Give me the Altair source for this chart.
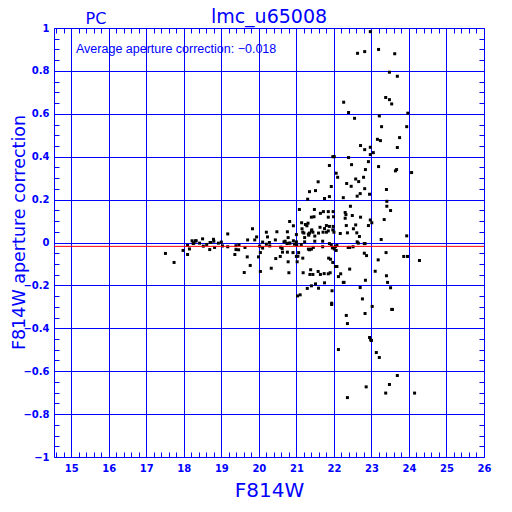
import altair as alt
import pandas as pd
import numpy as np

# ---- data ----
mag = [
    17.51, 17.74, 17.98, 18.10, 18.10, 18.15, 18.22, 18.25, 18.27, 18.31, 18.33, 18.42, 18.50, 18.52,
    18.61, 18.70, 18.72, 18.69, 18.79, 18.80, 18.82, 18.92, 19.00, 19.03, 19.17, 19.17, 19.36, 19.39,
    19.39, 19.47, 19.46, 19.61, 19.63, 19.69, 19.70, 19.77, 19.83, 19.89, 19.94, 19.99, 20.02, 20.04,
    20.04, 20.10, 20.10, 20.20, 20.20, 20.23, 20.28, 20.29, 20.33,
    # upper band near zero
    20.48, 20.82, 20.92, 20.76, 20.78, 21.00, 21.14, 21.24, 21.28, 21.31, 21.15, 21.17, 21.20, 21.22,
    21.40, 21.41, 21.44, 21.35, 21.32, 21.33, 21.49, 21.59, 21.71, 21.80, 21.85, 21.80, 21.88, 21.63,
    21.75, 21.98, 21.97, 22.00, 22.17, 22.33, 22.36, 22.52, 22.58, 22.61, 22.68, 22.92, 23.01, 23.26,
    23.94,
    # around zero
    20.44, 20.58, 20.62, 20.67, 20.70, 20.75, 20.80, 20.83, 20.92, 20.95, 21.00, 21.01, 21.13, 21.22,
    21.32, 21.35, 21.40, 21.45, 21.49, 21.70, 21.70, 21.88, 21.93, 21.96, 22.01, 22.04, 22.06, 22.08,
    22.38, 22.42, 22.51, 22.62, 22.65, 22.81, 22.83,
    # below
    20.45, 20.57, 20.63, 20.76, 20.78, 20.80, 20.91, 21.00, 21.02, 21.06, 21.04, 21.17, 21.18, 21.38,
    21.44, 21.36, 21.58, 21.64, 21.74, 21.85, 21.90, 21.86, 21.91, 21.97, 22.04, 22.08, 22.12, 22.18,
    22.25, 22.27, 22.42, 22.70, 22.84, 22.76, 22.81, 22.87, 23.18, 23.10, 23.39, 23.86, 23.96, 24.28,
    23.40, 23.43, 23.51, 23.02, 23.54, 23.56, 21.94, 21.94, 21.95, 21.03, 21.10, 21.29, 21.40, 21.51,
    21.59, 21.75, 22.33, 22.36, 22.83, 22.95, 22.98, 23.00, 23.13, 23.21, 22.12, 23.69, 23.48, 23.38,
    24.15, 22.86, 22.36,
    # high values
    22.97, 22.63, 22.82, 23.19, 23.62, 23.48, 23.69, 22.26, 22.39, 22.55, 23.38, 23.48, 23.54, 23.97,
    23.21, 23.27, 23.94, 23.75, 23.16, 23.24, 23.69, 22.71, 22.82, 22.97, 23.05, 22.97, 21.97, 22.01,
    22.39, 22.92, 21.88, 22.47, 22.84, 23.19, 23.64, 23.67, 24.07, 22.06, 22.10, 21.58, 22.58, 22.66,
    22.79, 22.34, 22.46, 21.93, 21.35, 21.51, 22.82, 23.40, 21.88, 22.25, 22.62, 22.70, 22.95, 21.30,
    21.75, 23.41, 21.08, 21.48, 22.44, 23.41, 23.51, 21.64, 21.72, 21.85, 21.98, 22.30, 22.32, 21.47,
    21.40, 21.85, 21.99, 22.49, 22.71, 22.30, 22.97, 23.34,
]
corr = [
    -0.051, -0.093, -0.037, -0.014, -0.056, -0.030, 0.008, -0.005, -0.002, 0.008, 0.008, -0.003, 0.017, -0.017,
    -0.009, 0.000, 0.000, -0.033, 0.015, 0.006, -0.023, -0.003, 0.002, -0.016, 0.040, -0.020, -0.056, -0.015,
    -0.033, -0.011, -0.034, -0.140, -0.023, -0.067, 0.012, -0.107, 0.064, 0.012, 0.026, -0.067, -0.017, -0.047,
    -0.135, 0.002, -0.026, -0.008, 0.048, 0.026, 0.000, -0.016, -0.120,
    0.050, 0.098, 0.078, 0.050, 0.023, 0.037, 0.092, 0.084, 0.078, 0.090, 0.064, 0.048, 0.044, 0.023,
    0.054, 0.059, 0.048, 0.044, 0.039, 0.034, 0.030, 0.044, 0.048, 0.048, 0.054, 0.079, 0.075, 0.071,
    0.065, 0.075, 0.059, 0.048, 0.042, 0.079, 0.045, 0.064, 0.082, 0.045, 0.028, 0.079, 0.092, 0.014,
    0.031,
    0.012, -0.022, -0.028, 0.003, 0.006, -0.005, -0.003, -0.003, 0.008, -0.008, 0.003, -0.011, -0.009, 0.003,
    -0.031, -0.034, -0.031, -0.023, 0.006, 0.006, -0.020, -0.005, -0.011, -0.025, -0.030, -0.019, -0.037, -0.014,
    -0.023, -0.023, -0.020, 0.003, -0.003, -0.005, -0.005,
    -0.075, -0.065, -0.045, -0.045, -0.090, -0.141, -0.047, -0.065, -0.090, -0.047, -0.064, -0.073, -0.141, -0.127,
    -0.149, -0.149, -0.135, -0.149, -0.145, -0.146, -0.141, -0.073, -0.078, -0.093, -0.112, -0.112, -0.159, -0.146,
    -0.186, -0.186, -0.124, -0.210, -0.176, -0.263, -0.050, -0.061, -0.081, -0.134, -0.047, -0.065, -0.065, -0.084,
    -0.155, -0.186, -0.211, -0.298, -0.312, -0.312, -0.283, -0.289, -0.225, -0.249, -0.244, -0.214, -0.202, -0.193,
    -0.213, -0.188, -0.340, -0.378, -0.331, -0.443, -0.454, -0.457, -0.513, -0.536, -0.499, -0.620, -0.662, -0.702,
    -0.702, -0.673, -0.723,
    0.983, 0.882, 0.890, 0.900, 0.880, 0.794, 0.775, 0.654, 0.606, 0.579, 0.676, 0.666, 0.646, 0.603,
    0.590, 0.540, 0.540, 0.489, 0.481, 0.475, 0.443, 0.452, 0.433, 0.444, 0.419, 0.410, 0.400, 0.400,
    0.396, 0.377, 0.359, 0.363, 0.340, 0.354, 0.334, 0.340, 0.326, 0.323, 0.304, 0.283, 0.296, 0.284,
    0.304, 0.275, 0.262, 0.261, 0.237, 0.242, 0.251, 0.247, 0.214, 0.209, 0.216, 0.228, 0.225, 0.202,
    0.205, 0.192, 0.154, 0.154, 0.169, 0.169, 0.149, 0.136, 0.144, 0.144, 0.144, 0.140, 0.130, 0.120,
    0.118, 0.118, 0.120, 0.126, 0.118, 0.113, 0.105, 0.107,
]
avg_corr = -0.018
x_major = [15, 16, 17, 18, 19, 20, 21, 22, 23, 24, 25, 26]
y_major = [-1, -0.8, -0.6, -0.4, -0.2, 0, 0.2, 0.4, 0.6, 0.8, 1]
title_text = "lmc_u65008"
camera_text = "PC"
x_title = "F814W"
y_title = "F814W aperture correction"

n = min(len(mag), len(corr))
df = pd.DataFrame({"mag": mag[:n], "corr": corr[:n]})

BLUE = "#0000ff"
FONT = "DejaVu Sans"

x_minor = [round(v, 1) for v in np.arange(14.6, 25.95, 0.2) if round(v * 5) % 5 != 0]
y_minor = [round(v, 2) for v in np.arange(-0.95, 0.96, 0.05) if round(v * 20) % 4 != 0]

xs = alt.Scale(domain=[14.54, 26], nice=False, zero=False)
ys = alt.Scale(domain=[-1, 1], nice=False, zero=False)

points = alt.Chart(df).mark_square(size=9, color="black", opacity=1).encode(
    x=alt.X("mag:Q", scale=xs, axis=alt.Axis(
        values=x_major, grid=True, gridColor=BLUE, gridWidth=1, gridOpacity=1,
        ticks=False, domain=False, labelColor=BLUE, labelFont=FONT, labelFontWeight="bold",
        labelFontSize=10, labelPadding=6, labelFlush=False,
        title=x_title, titleColor=BLUE, titleFont=FONT, titleFontSize=20, titleFontWeight="normal",
        titleY=39, titleBaseline="alphabetic")),
    y=alt.Y("corr:Q", scale=ys, axis=alt.Axis(
        values=y_major, format=".1~f", grid=True, gridColor=BLUE, gridWidth=1, gridOpacity=1,
        ticks=False, domain=False, labelColor=BLUE, labelFont=FONT, labelFontWeight="bold",
        labelFontSize=10, labelPadding=5, labelFlush=False,
        title=y_title, titleColor=BLUE, titleFont=FONT, titleFontSize=17.5, titleFontWeight="normal",
        titleX=-35, titleY=204, titleBaseline="middle")),
)

def minor_axis(orient, values):
    return alt.Axis(orient=orient, values=values, offset=-5, tickSize=5, tickColor=BLUE, tickWidth=1,
                    labels=False, domain=False, grid=False, title="")

minor_a = alt.Chart(df).mark_point(opacity=0).encode(
    x=alt.X("mag:Q", scale=xs, axis=minor_axis("bottom", x_minor)),
    y=alt.Y("corr:Q", scale=ys, axis=minor_axis("left", y_minor)),
)
minor_b = alt.Chart(df).mark_point(opacity=0).encode(
    x=alt.X("mag:Q", scale=xs, axis=minor_axis("top", x_minor)),
    y=alt.Y("corr:Q", scale=ys, axis=minor_axis("right", y_minor)),
)

avg_line = alt.Chart(pd.DataFrame({"avg": [avg_corr]})).mark_rule(color="red", strokeWidth=1).encode(
    y=alt.Y("avg:Q", scale=ys, axis=None)
)

avg_label = "Average aperture correction: " + f"{avg_corr:.3f}".replace("-", "\u2212")
texts = pd.DataFrame({
    "t": [title_text, camera_text, avg_label],
})
title_mark = alt.Chart(texts.iloc[[0]]).mark_text(
    font=FONT, fontSize=19, color=BLUE, align="center", baseline="alphabetic"
).encode(text="t:N", x=alt.value(215), y=alt.value(-5.5))
pc_mark = alt.Chart(texts.iloc[[1]]).mark_text(
    font=FONT, fontSize=16, color=BLUE, align="center", baseline="alphabetic"
).encode(text="t:N", x=alt.value(42), y=alt.value(-4))
avg_mark = alt.Chart(texts.iloc[[2]]).mark_text(
    font="Liberation Sans", fontSize=12.5, color=BLUE, align="left", baseline="alphabetic"
).encode(text="t:N", x=alt.value(22), y=alt.value(25))

chart = alt.layer(points, minor_a, minor_b, avg_line, title_mark, pc_mark, avg_mark).resolve_axis(
    x="independent", y="independent"
).properties(
    width=430, height=429, autosize="none",
    padding={"left": 46, "top": 20, "right": 20, "bottom": 45},
    background="white",
).configure_view(stroke=BLUE, strokeWidth=1)

chart.save("out.html", embed_options={"renderer": "svg", "actions": False})
